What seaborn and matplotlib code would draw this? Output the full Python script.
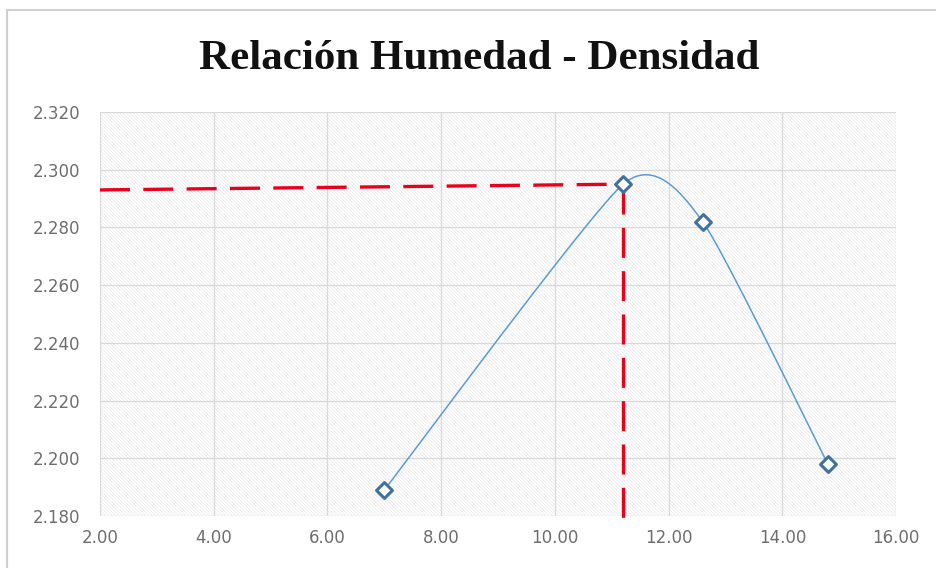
import numpy as np
import pandas as pd
import seaborn as sns
import matplotlib.pyplot as plt
from matplotlib.patches import Rectangle

# data
humedad = [7.0, 11.2, 12.6, 14.8]
densidad = [2.189, 2.295, 2.282, 2.198]
hum_opt = 11.2
dens_max = 2.295
dens_left = 2.293   # left end of the drawn horizontal guide
x_ticks = [2, 4, 6, 8, 10, 12, 14, 16]
y_ticks = [2.18, 2.20, 2.22, 2.24, 2.26, 2.28, 2.30, 2.32]
title = "Relación Humedad - Densidad"


def excel_smooth(xs, ys, k=0.1, n=60):
    # bezier smoothing similar to excel's "smoothed line"
    pts = np.column_stack([xs, ys])
    out = []
    for i in range(len(pts) - 1):
        p0 = pts[max(i - 1, 0)]
        p1 = pts[i]
        p2 = pts[i + 1]
        p3 = pts[min(i + 2, len(pts) - 1)]
        c1 = p1 + k * (p2 - p0)
        c2 = p2 - k * (p3 - p1)
        t = np.linspace(0, 1, n)[:, None]
        seg = ((1 - t) ** 3) * p1 + 3 * ((1 - t) ** 2) * t * c1 + 3 * (1 - t) * t ** 2 * c2 + t ** 3 * p2
        out.append(seg if i == 0 else seg[1:])
    return np.vstack(out)


sns.set_theme(style="white")
plt.rcParams['font.family'] = ['DejaVu Sans']
plt.rcParams['hatch.linewidth'] = 0.5

fig = plt.figure(figsize=(9.37, 5.68), dpi=100)
ax = fig.add_axes([0.1067, 0.0915, 0.8496, 0.7113])

# outer chart border (only top/left visible in the reference)
fig.add_artist(plt.Line2D([0.0075, 1.0], [1 - 10 / 568, 1 - 10 / 568], transform=fig.transFigure,
                          color="#d0d0d0", lw=1.5))
fig.add_artist(plt.Line2D([0.0075, 0.0075], [0.0, 1 - 10 / 568], transform=fig.transFigure,
                          color="#d0d0d0", lw=1.5))

# hatched plot area
ax.add_patch(Rectangle((0, 0), 1, 1, transform=ax.transAxes, facecolor="white",
                       edgecolor="#e8e8e8", hatch="\\" * 10, lw=0, zorder=0))

smooth = excel_smooth(humedad, densidad)
curve = pd.DataFrame({"x": smooth[:, 0], "y": smooth[:, 1]})
pts = pd.DataFrame({"humedad": humedad, "densidad": densidad})

sns.lineplot(data=curve, x="x", y="y", sort=False, ax=ax, color="#5b9bd5", lw=1.1, zorder=3)
sns.scatterplot(data=pts, x="humedad", y="densidad", ax=ax, marker="D", s=65,
                facecolor="white", edgecolor="#41719c", linewidth=2.2, zorder=5)

# red guide lines
ax.plot([2.0, hum_opt], [dens_left, dens_max], color="#e8001c", lw=2.4,
        dashes=(9, 4), zorder=4, solid_capstyle="butt")
ax.plot([hum_opt, hum_opt], [dens_max, 2.178], color="#e8001c", lw=2.4,
        dashes=(9, 4), zorder=4, clip_on=False)

ax.set_xlim(2, 16)
ax.set_ylim(2.18, 2.32)
ax.set_xticks(x_ticks)
ax.set_yticks(y_ticks)
ax.set_xticklabels([f"{v:.2f}" for v in x_ticks])
ax.set_yticklabels([f"{v:.3f}" for v in y_ticks])
ax.tick_params(axis="both", colors="#6e6e6e", labelsize=12, length=0)
ax.tick_params(axis="y", pad=14)
ax.tick_params(axis="x", pad=9)
ax.set_xlabel("")
ax.set_ylabel("")
ax.grid(True, color="#d9d9d9", lw=0.9)
ax.set_axisbelow(True)
for s in ax.spines.values():
    s.set_visible(False)

fig.text(0.511, 0.897, title, ha="center", va="center", fontsize=31,
         fontweight="bold", family=["Liberation Serif", "DejaVu Serif"], color="#111111")

fig.savefig("out.png", dpi=100)
